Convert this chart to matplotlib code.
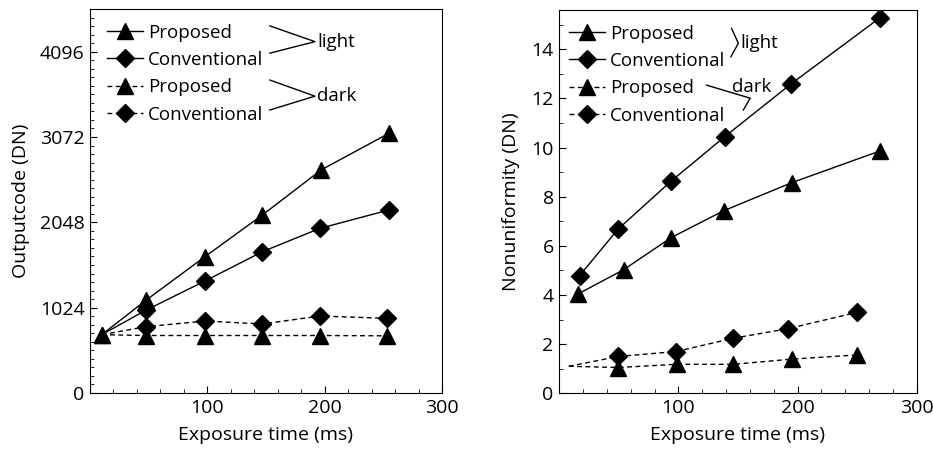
import matplotlib
matplotlib.use("Agg")
import matplotlib.pyplot as plt
from matplotlib.lines import Line2D
from matplotlib.ticker import MultipleLocator

plt.rcParams['font.family'] = ['Open Sans', 'DejaVu Sans']

# left panel: output code
l_x_prop_light = [10, 48, 98, 147, 197, 255]
l_prop_light = [700, 1116, 1636, 2137, 2677, 3118]
l_x_conv_light = [10, 48, 98, 147, 196, 255]
l_conv_light = [700, 996, 1344, 1696, 1976, 2197]
l_x_prop_dark = [10, 48, 98, 147, 196, 253]
l_prop_dark = [700, 690, 690, 690, 690, 686]
l_x_conv_dark = [10, 48, 98, 147, 196, 253]
l_conv_dark = [700, 796, 864, 828, 924, 896]

# right panel: nonuniformity
r_x_prop_light = [16, 54, 94, 138, 195, 269]
r_prop_light = [4.05, 5.03, 6.34, 7.43, 8.57, 9.86]
r_x_conv_light = [17, 49.5, 94, 139, 194.5, 269]
r_conv_light = [4.79, 6.69, 8.64, 10.45, 12.59, 15.28]
r_x_prop_dark = [8, 49.5, 98.5, 146, 195, 249.5]
r_prop_dark = [1.1, 1.05, 1.18, 1.18, 1.39, 1.56]
r_x_conv_dark = [8, 49.5, 98, 146, 192, 249.5]
r_conv_dark = [1.1, 1.50, 1.70, 2.24, 2.63, 3.29]

labels = ['Proposed', 'Conventional', 'Proposed', 'Conventional']

fig = plt.figure(figsize=(9.33, 4.5), dpi=100)
ax1 = fig.add_axes([90/933, 57/450, 352/933, 384/450])
ax2 = fig.add_axes([559.3/933, 56.7/450, 357.4/933, 383.3/450])

fs = 14
lfs = 13.5
dash = (0, (3.5, 2.5))
tri = dict(marker='^', ms=12, color='black', lw=1)
dia = dict(marker='D', ms=9, color='black', lw=1)

# left
ax1.plot(l_x_conv_dark, l_conv_dark, ls=dash, markevery=range(1, 6), **dia)
ax1.plot(l_x_prop_dark, l_prop_dark, ls=dash, **tri)
ax1.plot(l_x_conv_light, l_conv_light, ls='-', markevery=range(1, 6), **dia)
ax1.plot(l_x_prop_light, l_prop_light, ls='-', **tri)
ax1.set_xlim(0, 300)
ax1.set_ylim(0, 4608)
ax1.set_yticks([0, 1024, 2048, 3072, 4096])
ax1.yaxis.set_minor_locator(MultipleLocator(102.4))
ax1.set_ylabel('Outputcode (DN)', fontsize=fs)
ax1.yaxis.set_label_coords(-0.170, 0.5)

# right
ax2.plot(r_x_conv_dark, r_conv_dark, ls=dash, markevery=range(1, 6), **dia)
ax2.plot(r_x_prop_dark, r_prop_dark, ls=dash, markevery=range(1, 6), **tri)
ax2.plot(r_x_conv_light, r_conv_light, ls='-', **dia)
ax2.plot(r_x_prop_light, r_prop_light, ls='-', **tri)
ax2.set_xlim(0, 300)
ax2.set_ylim(0, 15.6)
ax2.set_yticks([0, 2, 4, 6, 8, 10, 12, 14])
ax2.yaxis.set_minor_locator(MultipleLocator(1))
ax2.set_ylabel('Nonuniformity (DN)', fontsize=fs)
ax2.yaxis.set_label_coords(-0.110, 0.5)

for ax in (ax1, ax2):
    ax.set_xticks([100, 200, 300])
    ax.xaxis.set_minor_locator(MultipleLocator(20))
    ax.tick_params(which='both', direction='in', top=False, right=False,
                   labelsize=fs, pad=4)
    ax.tick_params(which='major', length=5)
    ax.tick_params(which='minor', length=3)
    ax.set_xlabel('Exposure time (ms)', fontsize=fs)
    ax.xaxis.set_label_coords(0.5, -0.086)
    handles = [Line2D([], [], ls='-', **tri), Line2D([], [], ls='-', **dia),
               Line2D([], [], ls=dash, **tri), Line2D([], [], ls=dash, **dia)]
    ax.legend(handles, labels, frameon=False, fontsize=lfs, handlelength=1.9,
              handletextpad=0.3, labelspacing=0.5, borderpad=0, borderaxespad=0,
              loc='upper left',
              bbox_to_anchor=(0.048 if ax is ax1 else 0.027, 0.962))

# bracket marks, left
t1 = ax1.transAxes
ax1.plot([0.511, 0.639, 0.511], [0.956, 0.915, 0.885], color='black', lw=1,
         transform=t1, clip_on=False)
ax1.plot([0.511, 0.639, 0.511], [0.815, 0.773, 0.737], color='black', lw=1,
         transform=t1, clip_on=False)
ax1.text(0.645, 0.913, 'light', transform=t1, fontsize=lfs, va='center')
ax1.text(0.645, 0.773, 'dark', transform=t1, fontsize=lfs, va='center')

# bracket marks, right
t2 = ax2.transAxes
ax2.plot([0.482, 0.501, 0.480], [0.952, 0.913, 0.878], color='black', lw=1,
         transform=t2, clip_on=False)
ax2.plot([0.412, 0.534, 0.515], [0.804, 0.770, 0.739], color='black', lw=1,
         transform=t2, clip_on=False)
ax2.text(0.506, 0.914, 'light', transform=t2, fontsize=lfs, va='center')
ax2.text(0.482, 0.800, 'dark', transform=t2, fontsize=lfs, va='center')

fig.savefig('out.png', dpi=100)
